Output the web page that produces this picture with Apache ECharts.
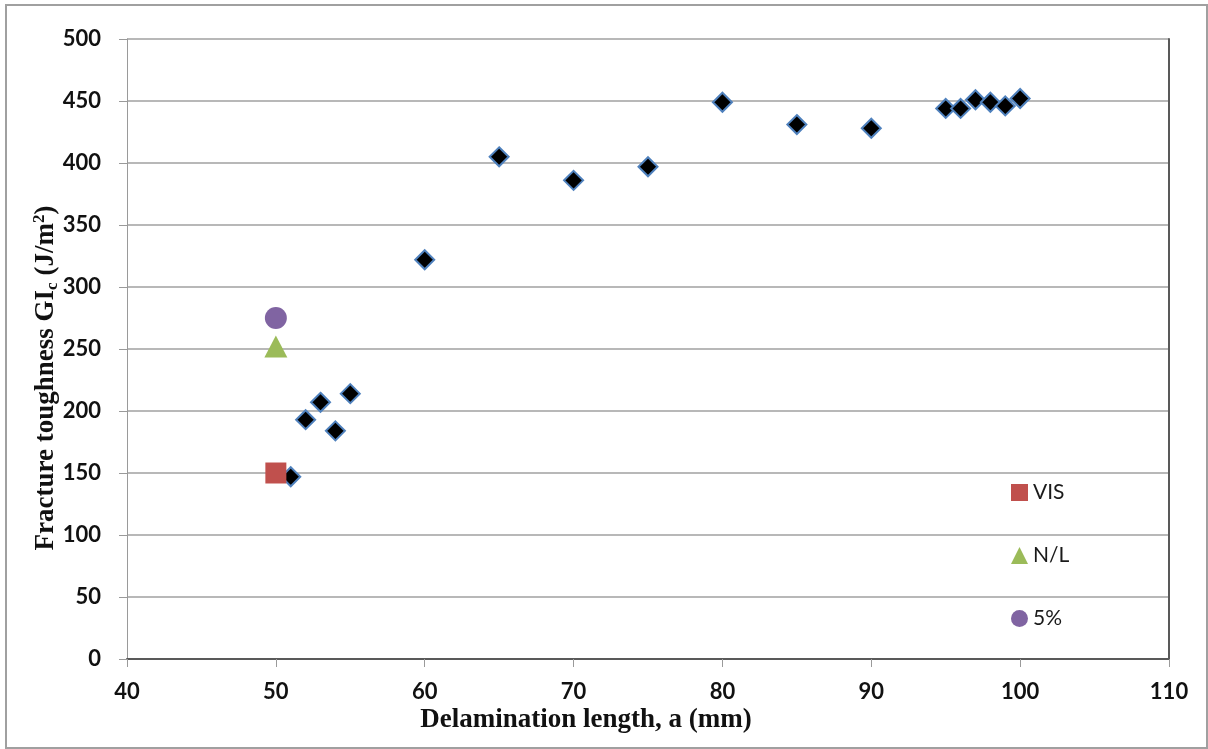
<!DOCTYPE html>
<html>
<head>
<meta charset="utf-8">
<script src="https://cdn.jsdelivr.net/npm/echarts@6/dist/echarts.min.js"></script>
<style>
html,body{margin:0;padding:0;background:#fff;}
#chart{width:1208px;height:749px;}
</style>
</head>
<body>
<div id="chart"></div>
<script>
// Data
var delamLength = [51, 52, 53, 54, 55, 60, 65, 70, 75, 80, 85, 90, 95, 96, 97, 98, 99, 100];
var gicValues = [147, 193, 207, 184, 214, 322, 405, 386, 397, 449, 431, 428, 444, 444, 451, 449, 446, 452];
var visPoint = [50, 150];
var nlPoint = [50, 252];
var pct5Point = [50, 275];
var xTicks = [40, 50, 60, 70, 80, 90, 100, 110];
var yTicks = [0, 50, 100, 150, 200, 250, 300, 350, 400, 450, 500];

var mainPoints = delamLength.map(function (x, i) { return [x, gicValues[i]]; });

var chart = echarts.init(document.getElementById('chart'), null, {renderer: 'canvas'});
var labelFont = {fontFamily: 'Lato', fontWeight: 'bold', fontSize: 22, color: '#111'};
var option = {
  backgroundColor: '#ffffff',
  animation: false,
  grid: {left: 127, right: 39, top: 39, bottom: 90, containLabel: false},
  legend: {
    data: ['VIS', 'N/L', '5%'],
    orient: 'vertical',
    left: 1006,
    top: 477,
    itemWidth: 17,
    itemHeight: 17,
    itemGap: 42,
    selectedMode: false,
    textStyle: {fontFamily: 'Lato', fontSize: 21, color: '#1a1a1a', lineHeight: 17}
  },
  xAxis: [{
    type: 'value', min: xTicks[0], max: xTicks[xTicks.length - 1], interval: 10,
    axisLine: {lineStyle: {color: '#9a9a9a', width: 1}},
    axisTick: {show: true, inside: false, length: 8, lineStyle: {color: '#9a9a9a'}},
    axisLabel: Object.assign({margin: 22}, labelFont),
    splitLine: {show: false}
  }, {
    type: 'value', position: 'top', min: xTicks[0], max: xTicks[xTicks.length - 1],
    axisLine: {show: true, lineStyle: {color: '#595959', width: 2}},
    axisTick: {show: false}, axisLabel: {show: false}, splitLine: {show: false}
  }],
  yAxis: [{
    type: 'value', min: yTicks[0], max: yTicks[yTicks.length - 1], interval: 50,
    axisLine: {show: true, lineStyle: {color: '#9a9a9a', width: 1}},
    axisTick: {show: true, inside: false, length: 8, lineStyle: {color: '#9a9a9a'}},
    axisLabel: Object.assign({margin: 26}, labelFont),
    splitLine: {show: true, lineStyle: {color: '#a0a0a0', width: 1.5}}
  }, {
    type: 'value', position: 'right', min: yTicks[0], max: yTicks[yTicks.length - 1],
    axisLine: {show: true, lineStyle: {color: '#595959', width: 2}},
    axisTick: {show: false}, axisLabel: {show: false}, splitLine: {show: false}
  }],
  series: [{
    name: 'GIc', type: 'scatter', data: mainPoints,
    symbol: 'diamond', symbolSize: 19,
    itemStyle: {color: '#000000', borderColor: '#4f81bd', borderWidth: 2, opacity: 1}
  }, {
    name: 'VIS', type: 'scatter', data: [visPoint],
    symbol: 'rect', symbolSize: 21,
    itemStyle: {color: '#c0504d', opacity: 1}
  }, {
    name: 'N/L', type: 'scatter', data: [nlPoint],
    symbol: 'triangle', symbolSize: [23, 22],
    itemStyle: {color: '#9bbb59', opacity: 1}
  }, {
    name: '5%', type: 'scatter', data: [pct5Point],
    symbol: 'circle', symbolSize: 22,
    itemStyle: {color: '#8064a2', opacity: 1}
  }],
  graphic: [{
    type: 'rect', silent: true, z: -10,
    shape: {x: 6, y: 5, width: 1201, height: 743},
    style: {fill: 'none', stroke: '#a0a0a0', lineWidth: 2}
  }, {
    type: 'text', silent: true,
    x: 586, y: 720,
    style: {
      text: 'Delamination length, a (mm)',
      font: 'bold 27px "Liberation Serif"',
      fill: '#111', align: 'center', verticalAlign: 'middle'
    }
  }, {
    type: 'text', silent: true,
    x: 46, y: 378, rotation: Math.PI / 2,
    style: {
      text: '{a|Fracture toughness GI}{b|c}{a| (J/m}{s|2}{a|)}',
      align: 'center', verticalAlign: 'middle',
      rich: {
        a: {fontFamily: 'Liberation Serif', fontWeight: 'bold', fontSize: 27, lineHeight: 30, fill: '#111', color: '#111'},
        b: {fontFamily: 'Liberation Serif', fontWeight: 'bold', fontSize: 17, lineHeight: 14, verticalAlign: 'bottom', fill: '#111', color: '#111'},
        s: {fontFamily: 'Liberation Serif', fontWeight: 'bold', fontSize: 17, lineHeight: 14, verticalAlign: 'top', fill: '#111', color: '#111'}
      }
    }
  }]
};
chart.setOption(option);
</script>
</body>
</html>
